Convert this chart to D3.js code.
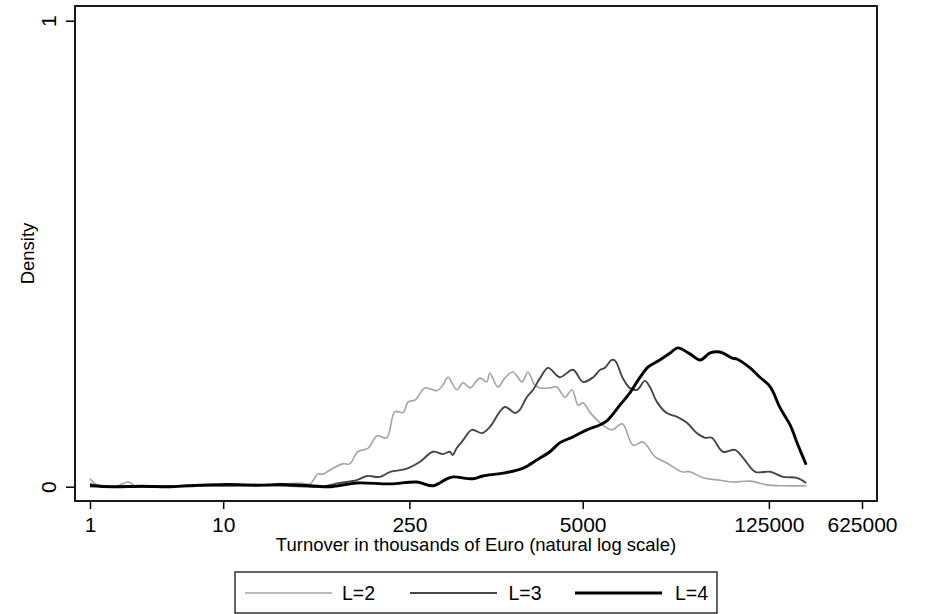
<!DOCTYPE html>
<html lang="en">
<head>
<meta charset="UTF-8">
<title>Turnover density</title>
<script src="https://cdn.jsdelivr.net/npm/d3@7"></script>
<style>
  body { margin: 0; background: #fff; }
  svg { display: block; font-family: "Liberation Sans", Arial, sans-serif; }
</style>
</head>
<body>
<svg id="chart" width="926" height="614"></svg>
<script>
// x values are ln(turnover in thousands of euro), y values are kernel densities
var lnX2 = [0, 0.12, 0.45, 0.66, 0.8, 1.4, 1.8, 2.3, 2.8, 3.2, 3.63, 3.8, 3.94, 4.03, 4.15, 4.37, 4.49, 4.63, 4.81, 4.96, 5.13, 5.27, 5.41, 5.5, 5.62, 5.79, 6.0, 6.1, 6.19, 6.34, 6.45, 6.57, 6.74, 6.86, 6.91, 7.05, 7.17, 7.31, 7.47, 7.57, 7.69, 7.78, 7.95, 8.07, 8.21, 8.33, 8.44, 8.52, 8.64, 8.82, 9.02, 9.2, 9.39, 9.56, 9.77, 9.97, 10.23, 10.37, 10.6, 10.89, 11.12, 11.41, 11.7, 11.98, 12.38];
var dens2 = [0.017, 0.004, 0.001, 0.010, 0.001, 0.001, 0.004, 0.002, 0.005, 0.003, 0.008, 0.006, 0.027, 0.027, 0.036, 0.049, 0.049, 0.075, 0.083, 0.109, 0.105, 0.161, 0.159, 0.182, 0.186, 0.212, 0.206, 0.218, 0.235, 0.208, 0.223, 0.212, 0.233, 0.225, 0.244, 0.214, 0.233, 0.246, 0.225, 0.246, 0.218, 0.212, 0.212, 0.214, 0.192, 0.208, 0.175, 0.180, 0.160, 0.137, 0.122, 0.135, 0.089, 0.096, 0.064, 0.051, 0.032, 0.032, 0.019, 0.014, 0.010, 0.012, 0.004, 0.002, 0.002];

var lnX3 = [0, 0.2, 0.6, 1.2, 1.8, 2.4, 3.0, 3.6, 4.0, 4.32, 4.61, 4.79, 5.01, 5.19, 5.39, 5.5, 5.7, 5.93, 6.1, 6.22, 6.27, 6.34, 6.45, 6.6, 6.78, 6.91, 7.17, 7.35, 7.43, 7.55, 7.66, 7.78, 7.92, 8.12, 8.35, 8.52, 8.7, 8.82, 8.9, 9.02, 9.08, 9.21, 9.33, 9.46, 9.59, 9.68, 9.8, 9.97, 10.15, 10.32, 10.49, 10.63, 10.75, 10.94, 11.15, 11.29, 11.5, 11.76, 11.98, 12.22, 12.38];
var dens3 = [0.006, 0.000, 0.001, 0.000, 0.003, 0.002, 0.003, 0.001, 0.000, 0.008, 0.014, 0.023, 0.021, 0.032, 0.036, 0.040, 0.053, 0.075, 0.070, 0.075, 0.068, 0.083, 0.100, 0.122, 0.115, 0.128, 0.171, 0.158, 0.165, 0.192, 0.208, 0.233, 0.255, 0.235, 0.251, 0.225, 0.235, 0.251, 0.255, 0.272, 0.270, 0.233, 0.212, 0.208, 0.227, 0.214, 0.182, 0.158, 0.150, 0.137, 0.115, 0.105, 0.105, 0.075, 0.079, 0.062, 0.032, 0.032, 0.021, 0.019, 0.008];

var lnX4 = [0, 0.4, 0.9, 1.4, 1.9, 2.4, 2.9, 3.3, 3.8, 4.17, 4.61, 5.19, 5.65, 5.93, 6.17, 6.28, 6.62, 6.79, 7.14, 7.49, 7.73, 7.95, 8.12, 8.35, 8.59, 8.82, 8.95, 9.16, 9.33, 9.51, 9.65, 9.85, 10.03, 10.16, 10.37, 10.55, 10.72, 10.89, 11.1, 11.18, 11.41, 11.58, 11.76, 11.93, 12.1, 12.24, 12.38];
var dens4 = [0.002, 0.000, 0.001, 0.000, 0.003, 0.005, 0.003, 0.005, 0.002, 0.000, 0.008, 0.006, 0.010, 0.002, 0.017, 0.021, 0.017, 0.023, 0.029, 0.040, 0.058, 0.075, 0.094, 0.107, 0.122, 0.133, 0.143, 0.175, 0.201, 0.235, 0.257, 0.272, 0.287, 0.298, 0.285, 0.272, 0.287, 0.289, 0.276, 0.274, 0.255, 0.235, 0.214, 0.169, 0.133, 0.089, 0.047];

var xTickVals = [1, 10, 250, 5000, 125000, 625000];
var yTickVals = [0, 1];
var seriesNames = ["L=2", "L=3", "L=4"];
var colors = ["#a3a3a3", "#454545", "#000000"];
var widths = [1.6, 1.9, 2.9];

var svg = d3.select("#chart");
var frame = {left: 75, top: 6, right: 877, bottom: 501};

var xScale = d3.scaleLinear().domain([0, Math.log(625000)]).range([90, 862]);
var yScale = d3.scaleLinear().domain([0, 1]).range([486.7, 20.7]);

// plot frame
svg.append("rect")
  .attr("x", frame.left).attr("y", frame.top)
  .attr("width", frame.right - frame.left).attr("height", frame.bottom - frame.top)
  .attr("fill", "none").attr("stroke", "#000").attr("stroke-width", 1.8);

// x axis
var xAxis = d3.axisBottom(xScale)
  .tickValues(xTickVals.map(function(v) { return Math.log(v); }))
  .tickFormat(function(d, i) { return xTickVals[i]; })
  .tickSize(8).tickPadding(8);
var gx = svg.append("g").attr("transform", "translate(0," + frame.bottom + ")").call(xAxis);
gx.select(".domain").remove();
gx.selectAll("line").attr("stroke", "#000").attr("stroke-width", 1.5);
gx.selectAll("text").attr("font-size", 21).attr("fill", "#000")
  .attr("font-family", "Liberation Sans, Arial, sans-serif");

// y axis
var yAxis = d3.axisLeft(yScale).tickValues(yTickVals).tickFormat(d3.format("d")).tickSize(9).tickPadding(0);
var gy = svg.append("g").attr("transform", "translate(" + frame.left + ",0)").call(yAxis);
gy.select(".domain").remove();
gy.selectAll("line").attr("stroke", "#000").attr("stroke-width", 1.5);
gy.selectAll("text")
  .attr("font-size", 21).attr("fill", "#000")
  .attr("font-family", "Liberation Sans, Arial, sans-serif")
  .attr("x", 0).attr("dy", 0)
  .attr("text-anchor", "middle")
  .attr("transform", "translate(-19,0) rotate(-90)");

// axis titles
svg.append("text")
  .attr("x", (frame.left + frame.right) / 2).attr("y", 551)
  .attr("text-anchor", "middle").attr("font-size", 18.5)
  .text("Turnover in thousands of Euro (natural log scale)");
svg.append("text")
  .attr("transform", "translate(33.5," + ((frame.top + frame.bottom) / 2) + ") rotate(-90)")
  .attr("text-anchor", "middle").attr("font-size", 18.5)
  .text("Density");

// density curves
var line = d3.line()
  .x(function(d) { return xScale(d[0]); })
  .y(function(d) { return yScale(d[1]); })
  .curve(d3.curveCatmullRom.alpha(0.5));

var series = [
  d3.zip(lnX2, dens2),
  d3.zip(lnX3, dens3),
  d3.zip(lnX4, dens4)
];

svg.selectAll("path.curve")
  .data(series)
  .enter()
  .append("path")
  .attr("class", "curve")
  .attr("fill", "none")
  .attr("stroke", function(d, i) { return colors[i]; })
  .attr("stroke-width", function(d, i) { return widths[i]; })
  .attr("stroke-linejoin", "round")
  .attr("d", line);

// legend
var legend = svg.append("g");
legend.append("rect")
  .attr("x", 235).attr("y", 572).attr("width", 482).attr("height", 41)
  .attr("fill", "#fff").attr("stroke", "#000").attr("stroke-width", 1.2);
var items = legend.selectAll("g.item")
  .data(seriesNames)
  .enter()
  .append("g")
  .attr("class", "item")
  .attr("transform", function(d, i) { return "translate(" + (245 + i * 165) + ",593)"; });
items.append("line")
  .attr("x1", 0).attr("x2", 87).attr("y1", 0).attr("y2", 0)
  .attr("stroke", function(d, i) { return colors[i]; })
  .attr("stroke-width", function(d, i) { return widths[i]; });
items.append("text")
  .attr("x", function(d, i) { return 97 + i * 1.5; }).attr("y", 7)
  .attr("font-size", 19.5)
  .text(function(d) { return d; });
</script>
</body>
</html>
